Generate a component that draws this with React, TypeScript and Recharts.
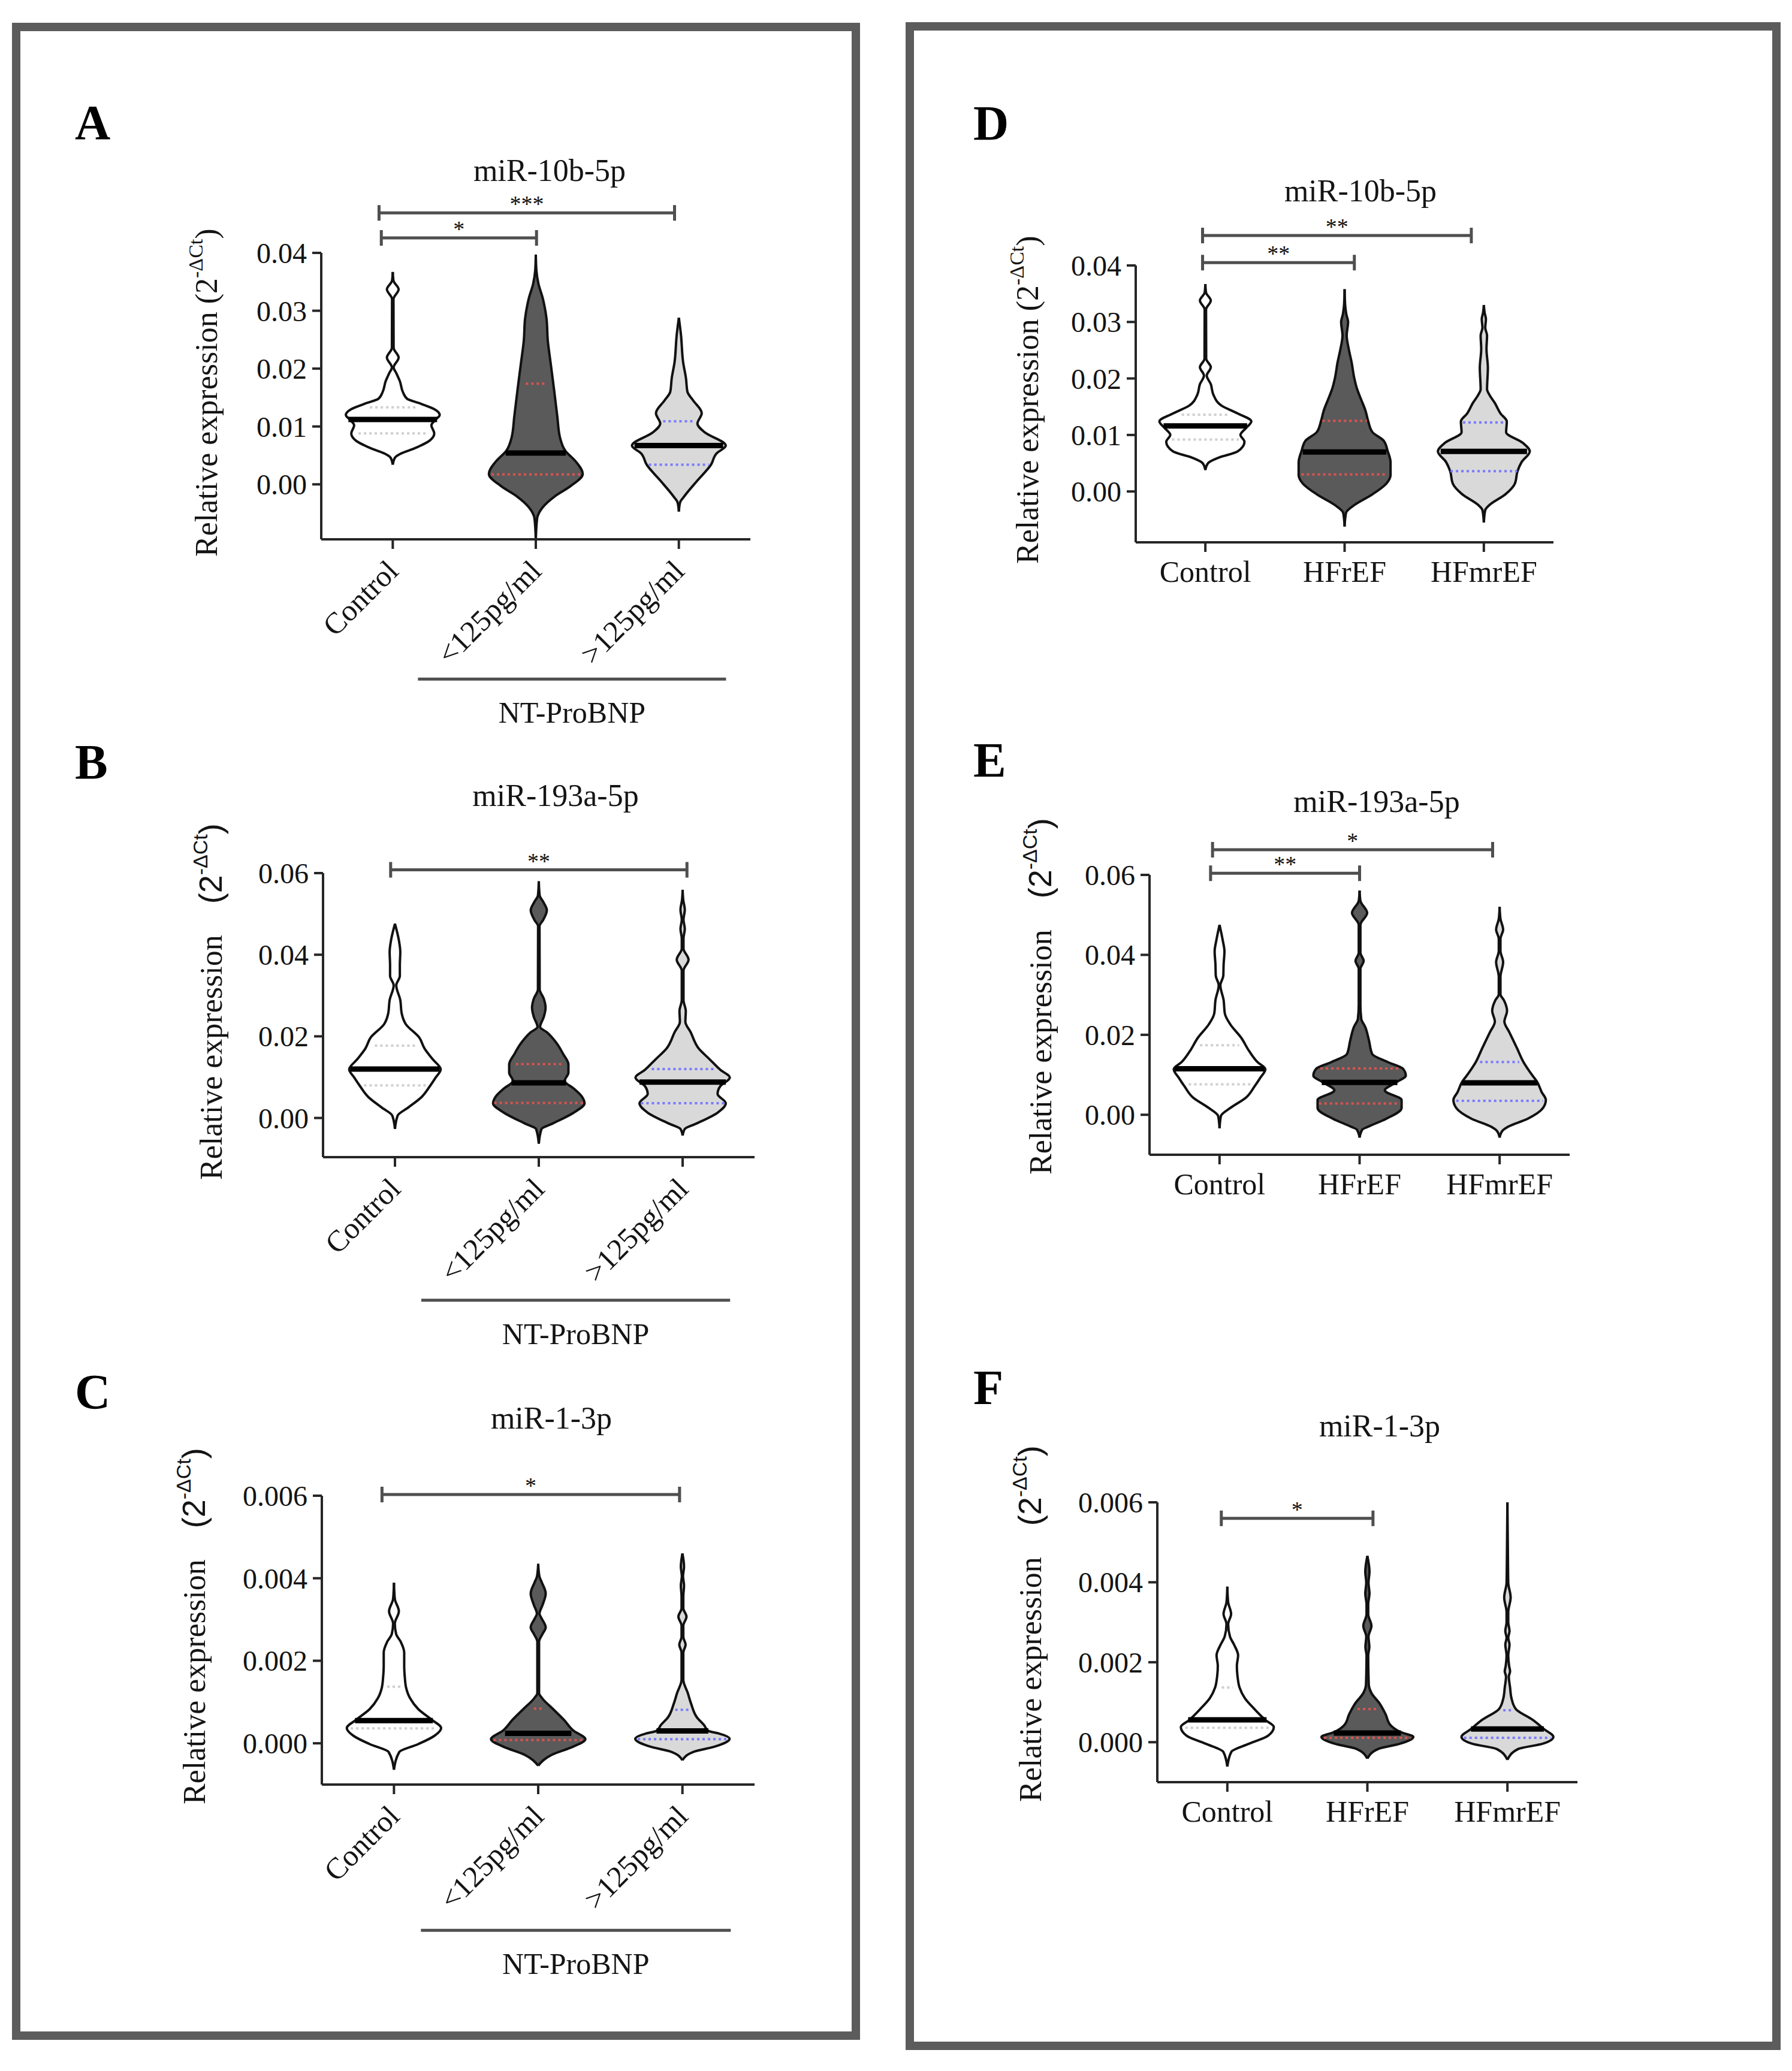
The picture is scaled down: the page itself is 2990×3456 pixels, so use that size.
import React from "react";
import { ComposedChart, Area, Line, XAxis, YAxis, ReferenceLine } from "recharts";

const SERIF = "'Liberation Serif', 'Times New Roman', serif";
const SANS = "'Liberation Sans', Arial, sans-serif";
const INK = "#141414";
const AXIS = "#262626";
const FILLS = ["#ffffff", "#5a5a5a", "#d9d9d9"];
const QUARTILE_COLORS = ["#cfcfcf", "#d9534f", "#7b7bff"];

type Profile = [number, number][]; // [expression, half width in category units]
type Stat = [number, number]; // [expression, half width]
interface SigBar { from: number; to: number; y: number; mark: string }

const ntCategories = ["Control", "<125pg/ml", ">125pg/ml"];
const efCategories = ["Control", "HFrEF", "HFmrEF"];

// ---- miR-10b-5p, NT-ProBNP groups (A)
const a10bControl: Profile = [[0.0034, 0], [0.0046, 0.015], [0.0053, 0.056], [0.0062, 0.15], [0.0076, 0.26], [0.0088, 0.29], [0.0102, 0.27], [0.0112, 0.3], [0.012, 0.328], [0.013, 0.29], [0.0139, 0.2], [0.0148, 0.1], [0.016, 0.07], [0.0178, 0.05], [0.0192, 0.025], [0.0202, 0.006], [0.0219, 0.041], [0.0236, 0.006], [0.032, 0.005], [0.0337, 0.041], [0.0352, 0.005], [0.0367, 0]];
const a10bLow: Profile = [[-0.0096, 0], [-0.0059, 0.009], [-0.004, 0.047], [-0.0021, 0.131], [-0.0003, 0.243], [0.0018, 0.328], [0.0039, 0.281], [0.0058, 0.206], [0.0081, 0.169], [0.0118, 0.15], [0.0165, 0.127], [0.0211, 0.103], [0.0248, 0.084], [0.0286, 0.075], [0.0323, 0.047], [0.0346, 0.019], [0.037, 0.004], [0.0397, 0]];
const a10bHigh: Profile = [[-0.0047, 0], [-0.0031, 0.009], [-0.0021, 0.037], [0.0007, 0.131], [0.0034, 0.225], [0.0053, 0.262], [0.0067, 0.328], [0.009, 0.18], [0.0105, 0.13], [0.0123, 0.16], [0.0145, 0.1], [0.016, 0.06], [0.0183, 0.05], [0.0211, 0.03], [0.0258, 0.015], [0.0288, 0]];
const a10bMedians: Stat[] = [[0.0112, 0.31], [0.0054, 0.21], [0.0067, 0.31]];
const a10bUpperQ: Stat[] = [[0.0133, 0.16], [0.0174, 0.07], [0.0109, 0.11]];
const a10bLowerQ: Stat[] = [[0.0088, 0.24], [0.0017, 0.31], [0.0034, 0.21]];
const a10bSig: SigBar[] = [
  { from: -0.08, to: 1.005, y: 0.0426, mark: "*" },
  { from: -0.096, to: 1.97, y: 0.0469, mark: "***" },
];

// ---- miR-193a-5p, NT-ProBNP groups (B)
const b193Control: Profile = [[-0.0027, 0], [0.0006, 0.019], [0.0026, 0.094], [0.0052, 0.187], [0.0078, 0.243], [0.0098, 0.281], [0.0119, 0.318], [0.0144, 0.262], [0.017, 0.206], [0.0197, 0.169], [0.023, 0.075], [0.0256, 0.047], [0.0289, 0.037], [0.0325, 0.009], [0.0348, 0.034], [0.0374, 0.034], [0.0407, 0.037], [0.0434, 0.028], [0.0476, 0]];
const b193Low: Profile = [[-0.0063, 0], [-0.0027, 0.019], [-0.0014, 0.094], [0.0013, 0.243], [0.0036, 0.318], [0.0052, 0.3], [0.0072, 0.243], [0.0091, 0.18], [0.0111, 0.206], [0.0131, 0.206], [0.0157, 0.169], [0.0184, 0.122], [0.021, 0.056], [0.0223, 0.009], [0.0248, 0.035], [0.027, 0.047], [0.0292, 0.035], [0.0315, 0.006], [0.047, 0.005], [0.0485, 0.03], [0.0509, 0.056], [0.053, 0.03], [0.0545, 0.006], [0.058, 0]];
const b193High: Profile = [[-0.0043, 0], [-0.0027, 0.015], [-0.0014, 0.094], [0.0013, 0.243], [0.0036, 0.3], [0.0059, 0.243], [0.0078, 0.262], [0.0099, 0.328], [0.0118, 0.262], [0.0144, 0.187], [0.017, 0.112], [0.021, 0.056], [0.0236, 0.019], [0.0262, 0.022], [0.0289, 0.006], [0.0361, 0.006], [0.0388, 0.041], [0.0415, 0.006], [0.044, 0.006], [0.0463, 0.015], [0.0486, 0.006], [0.051, 0.015], [0.0535, 0.004], [0.0559, 0]];
const b193Medians: Stat[] = [[0.012, 0.31], [0.0086, 0.19], [0.0088, 0.3]];
const b193UpperQ: Stat[] = [[0.0177, 0.14], [0.0132, 0.16], [0.012, 0.215]];
const b193LowerQ: Stat[] = [[0.008, 0.215], [0.0037, 0.31], [0.0036, 0.29]];
const b193Sig: SigBar[] = [{ from: -0.03, to: 2.03, y: 0.0608, mark: "**" }];

// ---- miR-1-3p, NT-ProBNP groups (C)
const c1Control: Profile = [[-0.00064, 0], [-0.00021, 0.037], [-0.00002, 0.168], [0.00018, 0.28], [0.00037, 0.327], [0.00057, 0.262], [0.00083, 0.168], [0.00109, 0.112], [0.00135, 0.084], [0.00161, 0.075], [0.00187, 0.071], [0.0022, 0.071], [0.00246, 0.047], [0.00265, 0.015], [0.0029, 0.006], [0.0032, 0.034], [0.0035, 0.006], [0.00389, 0]];
const c1Low: Profile = [[-0.00054, 0], [-0.00028, 0.093], [-0.00008, 0.243], [0.0001, 0.327], [0.00031, 0.243], [0.00057, 0.178], [0.00083, 0.103], [0.00109, 0.028], [0.00122, 0.006], [0.00246, 0.006], [0.00265, 0.03], [0.00281, 0.052], [0.00305, 0.02], [0.00314, 0.009], [0.00335, 0.03], [0.00363, 0.052], [0.0039, 0.025], [0.00405, 0.008], [0.00435, 0]];
const c1High: Profile = [[-0.00041, 0], [-0.00021, 0.075], [-0.00008, 0.224], [0.00011, 0.327], [0.00024, 0.25], [0.0003, 0.18], [0.00044, 0.15], [0.00063, 0.1], [0.00096, 0.06], [0.00122, 0.037], [0.00154, 0.006], [0.0022, 0.006], [0.00239, 0.022], [0.00258, 0.006], [0.00285, 0.006], [0.00307, 0.028], [0.00327, 0.006], [0.00356, 0.006], [0.00382, 0.011], [0.00405, 0.004], [0.00428, 0.011], [0.0046, 0]];
const c1Medians: Stat[] = [[0.00055, 0.27], [0.00024, 0.23], [0.0003, 0.18]];
const c1UpperQ: Stat[] = [[0.00137, 0.047], [0.00084, 0.03], [0.00081, 0.05]];
const c1LowerQ: Stat[] = [[0.00036, 0.3], [0.00008, 0.31], [0.0001, 0.31]];
const c1Sig: SigBar[] = [{ from: -0.083, to: 1.98, y: 0.00603, mark: "*" }];

// ---- miR-10b-5p, HF groups (D)
const d10bControl: Profile = [[0.0038, 0], [0.005, 0.019], [0.006, 0.097], [0.0071, 0.233], [0.0088, 0.281], [0.01, 0.252], [0.0112, 0.291], [0.0124, 0.33], [0.0138, 0.233], [0.0152, 0.116], [0.0171, 0.058], [0.019, 0.039], [0.0205, 0.01], [0.022, 0.039], [0.0235, 0.006], [0.0322, 0.005], [0.0338, 0.039], [0.0352, 0.005], [0.0367, 0]];
const d10bReduced: Profile = [[-0.0062, 0], [-0.0038, 0.01], [-0.0024, 0.07], [-0.0005, 0.2], [0.0014, 0.3], [0.0029, 0.33], [0.0052, 0.33], [0.0071, 0.31], [0.009, 0.28], [0.0105, 0.2], [0.0124, 0.17], [0.0143, 0.15], [0.0162, 0.12], [0.0181, 0.09], [0.02, 0.07], [0.0229, 0.05], [0.0252, 0.03], [0.0276, 0.015], [0.03, 0.025], [0.0314, 0.012], [0.033, 0.004], [0.0358, 0]];
const d10bMid: Profile = [[-0.0055, 0], [-0.0033, 0.01], [-0.0024, 0.04], [-0.0005, 0.155], [0.0014, 0.223], [0.0036, 0.242], [0.0052, 0.271], [0.0071, 0.33], [0.0086, 0.28], [0.0105, 0.16], [0.0124, 0.165], [0.0138, 0.12], [0.0157, 0.078], [0.0171, 0.04], [0.0181, 0.023], [0.0219, 0.029], [0.0252, 0.019], [0.0276, 0.023], [0.029, 0.01], [0.0305, 0.015], [0.0316, 0.006], [0.033, 0]];
const d10bMedians: Stat[] = [[0.0116, 0.3], [0.007, 0.3], [0.0071, 0.31]];
const d10bUpperQ: Stat[] = [[0.0136, 0.17], [0.0125, 0.16], [0.0122, 0.15]];
const d10bLowerQ: Stat[] = [[0.0092, 0.24], [0.003, 0.31], [0.0036, 0.24]];
const d10bSig: SigBar[] = [
  { from: -0.02, to: 1.07, y: 0.0405, mark: "**" },
  { from: -0.02, to: 1.91, y: 0.0453, mark: "**" },
];

// ---- miR-193a-5p, HF groups (E)
const e193Control: Profile = [[-0.0034, 0], [-0.0003, 0.01], [0.0017, 0.077], [0.0044, 0.192], [0.0071, 0.25], [0.0091, 0.288], [0.0114, 0.327], [0.0132, 0.27], [0.0159, 0.212], [0.0193, 0.154], [0.0226, 0.077], [0.0253, 0.038], [0.0287, 0.029], [0.0324, 0.006], [0.0348, 0.027], [0.0375, 0.029], [0.0409, 0.035], [0.0436, 0.023], [0.0475, 0]];
const e193Reduced: Profile = [[-0.0057, 0], [-0.0037, 0.02], [-0.003, 0.06], [-0.001, 0.19], [0.0017, 0.3], [0.0037, 0.3], [0.0061, 0.18], [0.0081, 0.26], [0.0098, 0.33], [0.0115, 0.31], [0.0132, 0.2], [0.0152, 0.09], [0.0186, 0.067], [0.022, 0.04], [0.024, 0.012], [0.0275, 0.006], [0.0365, 0.006], [0.0385, 0.029], [0.0405, 0.006], [0.0475, 0.006], [0.0505, 0.054], [0.0535, 0.006], [0.0561, 0]];
const e193Mid: Profile = [[-0.0057, 0], [-0.004, 0.02], [-0.003, 0.06], [-0.001, 0.2], [0.0017, 0.31], [0.0037, 0.33], [0.0057, 0.3], [0.0081, 0.27], [0.0105, 0.22], [0.0132, 0.17], [0.0166, 0.125], [0.0206, 0.07], [0.0233, 0.034], [0.026, 0.053], [0.0287, 0.03], [0.0301, 0.006], [0.0345, 0.006], [0.0382, 0.025], [0.041, 0.006], [0.044, 0.006], [0.0463, 0.025], [0.049, 0.006], [0.052, 0]];
const e193Medians: Stat[] = [[0.0115, 0.32], [0.0081, 0.27], [0.008, 0.27]];
const e193UpperQ: Stat[] = [[0.0174, 0.14], [0.0116, 0.28], [0.0132, 0.14]];
const e193LowerQ: Stat[] = [[0.0076, 0.22], [0.0028, 0.29], [0.0035, 0.31]];
const e193Sig: SigBar[] = [
  { from: -0.064, to: 1.0, y: 0.0604, mark: "**" },
  { from: -0.05, to: 1.95, y: 0.0663, mark: "*" },
];

// ---- miR-1-3p, HF groups (F)
const f1Control: Profile = [[-0.00061, 0], [-0.00024, 0.029], [-0.00004, 0.154], [0.00016, 0.29], [0.00038, 0.332], [0.00056, 0.27], [0.00083, 0.193], [0.0011, 0.125], [0.00137, 0.087], [0.00164, 0.073], [0.00191, 0.068], [0.00217, 0.077], [0.00244, 0.048], [0.00264, 0.019], [0.00295, 0.006], [0.00321, 0.027], [0.0035, 0.006], [0.00389, 0]];
const f1Reduced: Profile = [[-0.00041, 0], [-0.00017, 0.077], [-0.00004, 0.232], [0.00013, 0.328], [0.00026, 0.232], [0.00043, 0.164], [0.0007, 0.13], [0.00097, 0.087], [0.00123, 0.029], [0.00144, 0.01], [0.00217, 0.006], [0.00238, 0.014], [0.00264, 0.008], [0.00291, 0.029], [0.0032, 0.006], [0.00345, 0.006], [0.00372, 0.015], [0.00399, 0.008], [0.00426, 0.015], [0.00466, 0]];
const f1Mid: Profile = [[-0.00044, 0], [-0.00017, 0.077], [-0.00004, 0.251], [0.00013, 0.328], [0.00033, 0.26], [0.00056, 0.18], [0.00083, 0.06], [0.0011, 0.029], [0.00137, 0.019], [0.00164, 0.01], [0.00177, 0.019], [0.00191, 0.012], [0.00217, 0.006], [0.00244, 0.015], [0.00261, 0.006], [0.00278, 0.015], [0.003, 0.006], [0.00325, 0.006], [0.00362, 0.023], [0.00399, 0.006], [0.0045, 0.004], [0.006, 0]];
const f1Medians: Stat[] = [[0.00056, 0.28], [0.00023, 0.24], [0.00033, 0.26]];
const f1UpperQ: Stat[] = [[0.00137, 0.04], [0.00083, 0.07], [0.0008, 0.03]];
const f1LowerQ: Stat[] = [[0.00036, 0.3], [0.00011, 0.31], [0.00011, 0.31]];
const f1Sig: SigBar[] = [{ from: -0.043, to: 1.04, y: 0.0056, mark: "*" }];

interface Box { x: number; y: number; w: number; h: number }
interface Plot { l: number; t: number; r: number; b: number }

interface PanelProps {
  box: Box;
  plot: Plot;
  domain: [number, number];
  ticks: number[];
  digits: number;
  categories: string[];
  rotated: boolean;
  violins: Profile[];
  medians: Stat[];
  upperQ: Stat[];
  lowerQ: Stat[];
  sig: SigBar[];
  bracket?: { from: number; to: number; y: number; text: string };
  yTitle: { x: number; y: number; split: boolean };
}

function AxisTitle({ x, y, split }: { x: number; y: number; split: boolean }) {
  const fam = split ? SANS : SERIF;
  const big = split ? 54 : 52;
  return (
    <text transform={`translate(${x},${y}) rotate(-90)`} fontFamily={SERIF} fontSize={52} fill={INK}>
      <tspan>Relative expression</tspan>
      <tspan dx={split ? 52 : 13} fontFamily={fam} fontSize={big}>(2</tspan>
      <tspan dy={-24} fontFamily={fam} fontSize={34}>-ΔCt</tspan>
      <tspan dy={24} fontFamily={fam} fontSize={big}>)</tspan>
    </text>
  );
}

function CategoryTick(props: any) {
  const { x, y, payload, categories, rotated } = props;
  const label = categories[payload.value];
  if (rotated) {
    return (
      <g transform={`translate(${x + 12},${y + 38}) rotate(-45)`}>
        <text textAnchor="end" fontFamily={SERIF} fontSize={50} fill={INK}>{label}</text>
      </g>
    );
  }
  return (
    <text x={x} y={y + 48} textAnchor="middle" fontFamily={SERIF} fontSize={50} fill={INK}>{label}</text>
  );
}

const sigShape = (mark: string) => (props: any) => {
  const { x1, x2, y1 } = props;
  return (
    <g>
      <path
        d={`M${x1},${y1}H${x2}M${x1},${y1 - 13}V${y1 + 13}M${x2},${y1 - 13}V${y1 + 13}`}
        stroke="#4f4f4f"
        strokeWidth={5}
        fill="none"
      />
      <text x={(x1 + x2) / 2} y={y1 - 2} textAnchor="middle" fontFamily={SERIF} fontSize={38} fill={INK}>
        {mark}
      </text>
    </g>
  );
};

const bracketShape = (text: string) => (props: any) => {
  const { x1, x2, y1 } = props;
  return (
    <g>
      <line x1={x1} x2={x2} y1={y1} y2={y1} stroke="#4f4f4f" strokeWidth={5} />
      <text x={(x1 + x2) / 2} y={y1 + 73} textAnchor="middle" fontFamily={SERIF} fontSize={50} fill={INK}>
        {text}
      </text>
    </g>
  );
};

const statLine = (s: Stat, i: number) => [
  { v: s[0], x: i - s[1] },
  { v: s[0], x: i + s[1] },
];

function Panel(p: PanelProps) {
  const { box, plot } = p;
  const margin = { top: plot.t - box.y, right: box.x + box.w - plot.r, bottom: 0, left: 0 };
  const yWidth = plot.l - box.x;
  const xHeight = box.y + box.h - plot.b;
  const axisStroke = { stroke: AXIS, strokeWidth: 4 };
  return (
    <div style={{ position: "absolute", left: box.x, top: box.y }}>
      <ComposedChart layout="vertical" width={box.w} height={box.h} margin={margin}>
        <XAxis
          type="number"
          domain={[-0.5, 2.5]}
          ticks={[0, 1, 2]}
          interval={0}
          allowDataOverflow
          height={xHeight}
          tickSize={16}
          axisLine={axisStroke}
          tickLine={axisStroke}
          tick={(t: any) => <CategoryTick {...t} categories={p.categories} rotated={p.rotated} />}
        />
        <YAxis
          type="number"
          dataKey="v"
          reversed
          domain={p.domain}
          ticks={p.ticks}
          interval={0}
          allowDataOverflow
          width={yWidth}
          tickSize={15}
          tickMargin={9}
          axisLine={axisStroke}
          tickLine={axisStroke}
          tickFormatter={(v: number) => v.toFixed(p.digits)}
          tick={{ fontSize: 48, fontFamily: SERIF, fill: INK }}
          label={{
            content: () => (
              <AxisTitle x={p.yTitle.x - box.x} y={p.yTitle.y - box.y} split={p.yTitle.split} />
            ),
          }}
        />
        {p.violins.map((prof, i) => (
          <Area
            key={`violin-${i}`}
            data={prof.map(([v, w]) => ({ v, r: [i - w, i + w] }))}
            dataKey="r"
            type="monotone"
            fill={FILLS[i]}
            fillOpacity={1}
            stroke="#111111"
            strokeWidth={4}
            dot={false}
            activeDot={false}
            isAnimationActive={false}
          />
        ))}
        {p.upperQ.map((s, i) => (
          <Line key={`uq-${i}`} data={statLine(s, i)} dataKey="x" type="linear" stroke={QUARTILE_COLORS[i]}
            strokeWidth={4} strokeDasharray="4 5" dot={false} activeDot={false} isAnimationActive={false} />
        ))}
        {p.lowerQ.map((s, i) => (
          <Line key={`lq-${i}`} data={statLine(s, i)} dataKey="x" type="linear" stroke={QUARTILE_COLORS[i]}
            strokeWidth={4} strokeDasharray="4 5" dot={false} activeDot={false} isAnimationActive={false} />
        ))}
        {p.medians.map((s, i) => (
          <Line key={`med-${i}`} data={statLine(s, i)} dataKey="x" type="linear" stroke="#000000"
            strokeWidth={9} dot={false} activeDot={false} isAnimationActive={false} />
        ))}
        {p.sig.map((s, i) => (
          <ReferenceLine
            key={`sig-${i}`}
            segment={[{ x: s.from, y: s.y }, { x: s.to, y: s.y }]}
            ifOverflow="visible"
            shape={sigShape(s.mark)}
          />
        ))}
        {p.bracket && (
          <ReferenceLine
            segment={[{ x: p.bracket.from, y: p.bracket.y }, { x: p.bracket.to, y: p.bracket.y }]}
            ifOverflow="visible"
            shape={bracketShape(p.bracket.text)}
          />
        )}
      </ComposedChart>
    </div>
  );
}

const panelLetters: [string, number, number][] = [
  ["A", 125, 232], ["B", 125, 1299], ["C", 125, 2350],
  ["D", 1624, 233], ["E", 1624, 1296], ["F", 1624, 2343],
];
const panelTitles: [string, number, number][] = [
  ["miR-10b-5p", 917, 302], ["miR-193a-5p", 927, 1345], ["miR-1-3p", 920, 2384],
  ["miR-10b-5p", 2270, 336], ["miR-193a-5p", 2297, 1355], ["miR-1-3p", 2302, 2397],
];

export default function App() {
  return (
    <div style={{ position: "absolute", left: 0, top: 0, width: 2990, height: 3456, background: "#ffffff", overflow: "hidden" }}>
      <Panel
        box={{ x: 200, y: 320, w: 1100, h: 920 }}
        plot={{ l: 536, t: 422, r: 1252, b: 900 }}
        domain={[-0.0095, 0.04]}
        ticks={[0, 0.01, 0.02, 0.03, 0.04]}
        digits={2}
        categories={ntCategories}
        rotated
        violins={[a10bControl, a10bLow, a10bHigh]}
        medians={a10bMedians}
        upperQ={a10bUpperQ}
        lowerQ={a10bLowerQ}
        sig={a10bSig}
        bracket={{ from: 0.176, to: 2.33, y: -0.03366, text: "NT-ProBNP" }}
        yTitle={{ x: 362, y: 929, split: false }}
      />
      <Panel
        box={{ x: 200, y: 1330, w: 1100, h: 960 }}
        plot={{ l: 539, t: 1457, r: 1259, b: 1931 }}
        domain={[-0.0096, 0.06]}
        ticks={[0, 0.02, 0.04, 0.06]}
        digits={2}
        categories={ntCategories}
        rotated
        violins={[b193Control, b193Low, b193High]}
        medians={b193Medians}
        upperQ={b193UpperQ}
        lowerQ={b193LowerQ}
        sig={b193Sig}
        bracket={{ from: 0.183, to: 2.33, y: -0.04464, text: "NT-ProBNP" }}
        yTitle={{ x: 370, y: 1969, split: true }}
      />
      <Panel
        box={{ x: 200, y: 2370, w: 1100, h: 990 }}
        plot={{ l: 537, t: 2496, r: 1259, b: 2978 }}
        domain={[-0.001, 0.006]}
        ticks={[0, 0.002, 0.004, 0.006]}
        digits={3}
        categories={ntCategories}
        rotated
        violins={[c1Control, c1Low, c1High]}
        medians={c1Medians}
        upperQ={c1UpperQ}
        lowerQ={c1LowerQ}
        sig={c1Sig}
        bracket={{ from: 0.187, to: 2.335, y: -0.004531, text: "NT-ProBNP" }}
        yTitle={{ x: 342, y: 3011, split: true }}
      />
      <Panel
        box={{ x: 1560, y: 320, w: 1140, h: 720 }}
        plot={{ l: 1895, t: 443, r: 2592, b: 905 }}
        domain={[-0.009, 0.04]}
        ticks={[0, 0.01, 0.02, 0.03, 0.04]}
        digits={2}
        categories={efCategories}
        rotated={false}
        violins={[d10bControl, d10bReduced, d10bMid]}
        medians={d10bMedians}
        upperQ={d10bUpperQ}
        lowerQ={d10bLowerQ}
        sig={d10bSig}
        yTitle={{ x: 1732, y: 941, split: false }}
      />
      <Panel
        box={{ x: 1560, y: 1330, w: 1140, h: 720 }}
        plot={{ l: 1918, t: 1460, r: 2619, b: 1927 }}
        domain={[-0.01, 0.06]}
        ticks={[0, 0.02, 0.04, 0.06]}
        digits={2}
        categories={efCategories}
        rotated={false}
        violins={[e193Control, e193Reduced, e193Mid]}
        medians={e193Medians}
        upperQ={e193UpperQ}
        lowerQ={e193LowerQ}
        sig={e193Sig}
        yTitle={{ x: 1754, y: 1960, split: true }}
      />
      <Panel
        box={{ x: 1560, y: 2380, w: 1140, h: 720 }}
        plot={{ l: 1931, t: 2507, r: 2632, b: 2974 }}
        domain={[-0.001, 0.006]}
        ticks={[0, 0.002, 0.004, 0.006]}
        digits={3}
        categories={efCategories}
        rotated={false}
        violins={[f1Control, f1Reduced, f1Mid]}
        medians={f1Medians}
        upperQ={f1UpperQ}
        lowerQ={f1LowerQ}
        sig={f1Sig}
        yTitle={{ x: 1737, y: 3007, split: true }}
      />

      <svg width={2990} height={3456} style={{ position: "absolute", left: 0, top: 0, pointerEvents: "none" }}>
        <rect x={27} y={45} width={1401} height={3352} fill="none" stroke="#5c5c5c" strokeWidth={14} />
        <rect x={1518} y={44} width={1446} height={3370} fill="none" stroke="#5c5c5c" strokeWidth={14} />
        {panelLetters.map(([t, x, y]) => (
          <text key={t} x={x} y={y} fontFamily={SERIF} fontWeight="bold" fontSize={82} fill="#000">{t}</text>
        ))}
        {panelTitles.map(([t, x, y], i) => (
          <text key={i} x={x} y={y} textAnchor="middle" fontFamily={SERIF} fontSize={52} fill={INK}>{t}</text>
        ))}
      </svg>
    </div>
  );
}
